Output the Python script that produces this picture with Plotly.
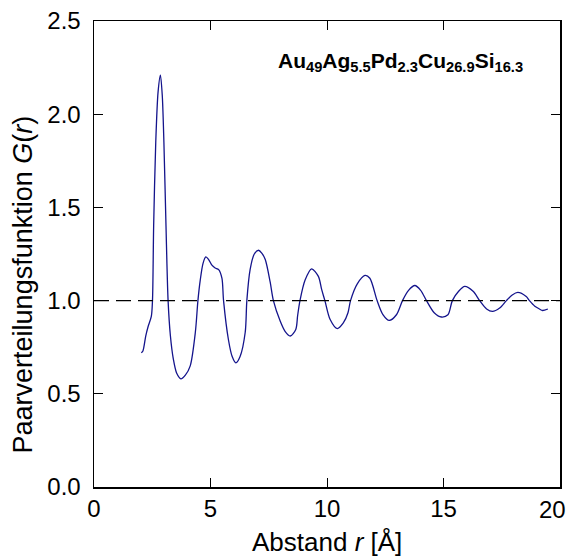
import plotly.graph_objects as go

# Pair distribution function G(r)
r_values = [2.03, 2.10, 2.22, 2.32, 2.46, 2.51, 2.56, 2.65, 2.75, 2.85, 2.93, 3.00, 3.09, 3.18, 3.28,
            3.40, 3.55, 3.73, 3.92, 4.13, 4.35, 4.46, 4.56, 4.68, 4.80, 4.92, 5.06, 5.20, 5.35, 5.49,
            5.56, 5.77, 5.93, 6.09, 6.27, 6.49, 6.56, 6.70, 6.88, 7.06, 7.20, 7.35, 7.56, 7.70, 7.99,
            8.20, 8.42, 8.66, 8.74, 8.84, 9.06, 9.34, 9.63, 9.77, 9.91, 10.13, 10.44, 10.70, 10.90,
            11.01, 11.30, 11.63, 11.84, 12.15, 12.40, 12.67, 12.98, 13.24, 13.50, 13.77, 14.02, 14.27,
            14.60, 14.91, 15.19, 15.38, 15.65, 15.91, 16.27, 16.55, 16.85, 17.10, 17.41, 17.70, 17.95,
            18.19, 18.55, 18.69, 18.92, 19.12, 19.25, 19.48]
g_values = [0.72, 0.73, 0.81, 0.86, 0.915, 1.00, 1.40, 1.85, 2.12, 2.21, 2.10, 1.85, 1.40, 1.00, 0.81,
            0.69, 0.61, 0.58, 0.60, 0.65, 0.83, 1.00, 1.11, 1.20, 1.234, 1.22, 1.19, 1.175, 1.166, 1.12,
            1.00, 0.79, 0.70, 0.666, 0.70, 0.83, 1.00, 1.166, 1.25, 1.27, 1.255, 1.22, 1.10, 1.00, 0.89,
            0.835, 0.81, 0.845, 0.92, 1.00, 1.11, 1.17, 1.13, 1.06, 1.00, 0.90, 0.85, 0.88, 0.935,
            1.00, 1.09, 1.135, 1.12, 1.00, 0.925, 0.894, 0.924, 1.00, 1.055, 1.081, 1.055, 1.00,
            0.935, 0.912, 0.924, 1.00, 1.05, 1.076, 1.05, 1.00, 0.955, 0.942, 0.96, 1.00, 1.03,
            1.044, 1.022, 1.00, 0.97, 0.955, 0.947, 0.955]

x_ticks = [0, 5, 10, 15, 20]
x_tick_labels = ["0", "5", "10", "15", "20"]
y_ticks = [0.0, 0.5, 1.0, 1.5, 2.0, 2.5]
y_tick_labels = ["0.0", "0.5", "1.0", "1.5", "2.0", "2.5"]
reference_level = 1.0

x_title = "Abstand <i>r</i> [Å]"
y_title = "Paarverteilungsfunktion <i>G</i>(<i>r</i>)"
alloy_label = "<b>Au<sub>49</sub>Ag<sub>5.5</sub>Pd<sub>2.3</sub>Cu<sub>26.9</sub>Si<sub>16.3</sub></b>"

FONT = "Liberation Sans, Arial, Helvetica, sans-serif"
TICK_FONT = dict(family=FONT, size=24, color="black")

fig = go.Figure()
fig.add_trace(go.Scatter(
    x=r_values, y=g_values, mode="lines",
    line=dict(color="#14148c", width=1.3, shape="spline", smoothing=0.8),
    showlegend=False, hoverinfo="skip",
))
fig.add_trace(go.Scatter(
    x=[x_ticks[0], x_ticks[-1]], y=[reference_level, reference_level], mode="lines",
    line=dict(color="black", width=1.3, dash="15px,7px"),
    showlegend=False, hoverinfo="skip",
))

axis_common = dict(
    showline=True, linecolor="black", linewidth=1.5, mirror="ticks",
    ticks="inside", ticklen=9, tickwidth=1, tickcolor="black",
    showgrid=False, zeroline=False, automargin=False,
    tickfont=TICK_FONT,
)

# the last x label sits at the right edge of the page; it is drawn slightly
# inward (as in the reference) so that it is not cut off
fig.update_xaxes(
    range=[0, 20], tickvals=x_ticks, ticktext=x_tick_labels[:-1] + [""],
    **axis_common,
)
fig.update_yaxes(
    range=[0, 2.5], tickvals=y_ticks, ticktext=y_tick_labels,
    ticklabelstandoff=7,
    **axis_common,
)
fig.add_annotation(
    xref="x", yref="paper", x=x_ticks[-1], y=0, xanchor="center", yanchor="top",
    xshift=-8, yshift=-7, text=x_tick_labels[-1], showarrow=False, font=TICK_FONT,
)

fig.add_annotation(
    xref="paper", yref="paper", x=0.5, y=-0.117, xanchor="center", yanchor="middle",
    text=x_title, showarrow=False, font=dict(family=FONT, size=26, color="black"),
)
fig.add_annotation(
    xref="paper", yref="paper", x=-0.153, y=0.434, xanchor="center", yanchor="middle",
    text=y_title, textangle=-90, showarrow=False, font=dict(family=FONT, size=27, color="black"),
)
fig.add_annotation(
    xref="paper", yref="paper", x=0.391, y=0.913, xanchor="left", yanchor="middle",
    text=alloy_label, showarrow=False, font=dict(family=FONT, size=21, color="black"),
)

fig.update_layout(
    width=567, height=556,
    margin=dict(l=94, r=7, t=21, b=69),
    paper_bgcolor="white", plot_bgcolor="white",
    font=dict(family=FONT, color="black"),
)

fig.write_html(
    "out.html",
    config={"displayModeBar": False, "staticPlot": True},
    post_script="document.body.style.margin='0';document.body.style.overflow='hidden';",
)
